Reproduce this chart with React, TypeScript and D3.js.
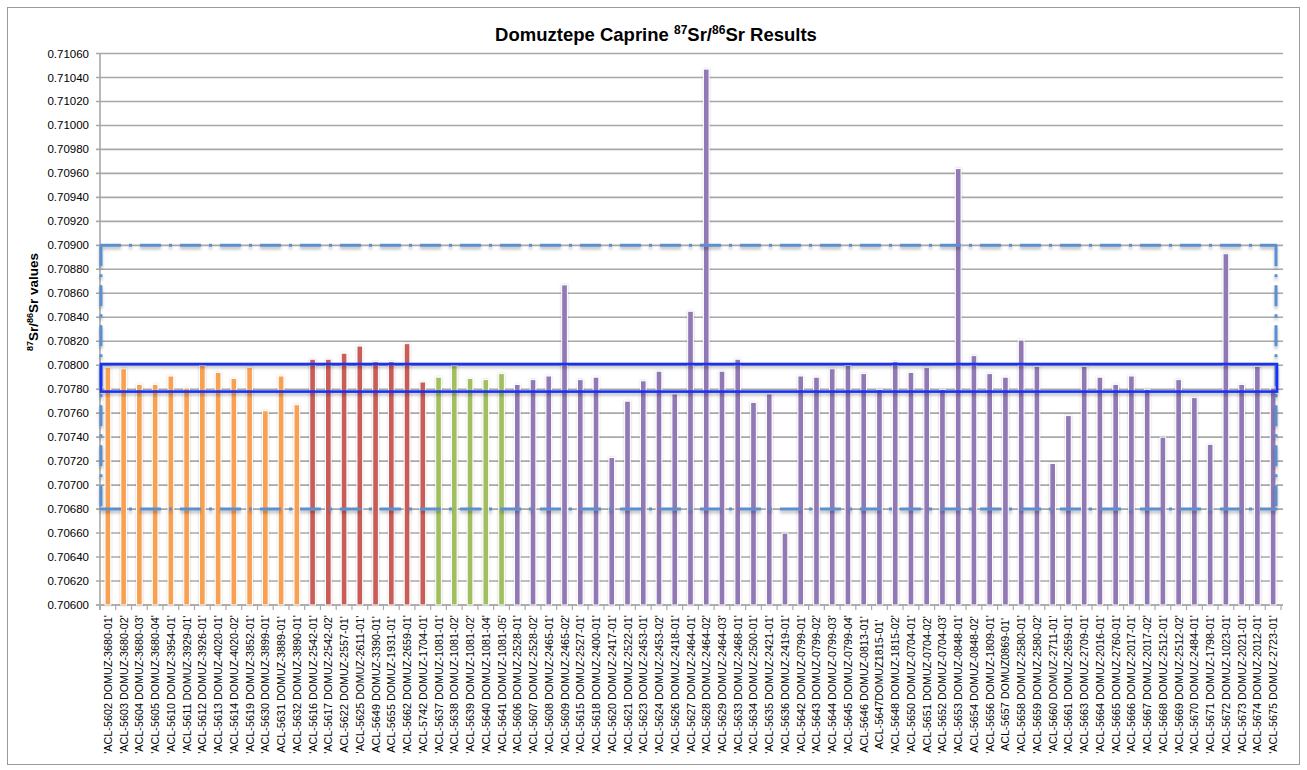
import React from "react";
import * as d3 from "d3";

const labels: string[] = [
  "'ACL-5602 DOMUZ-3680-01'", "'ACL-5603 DOMUZ-3680-02'", "'ACL-5604 DOMUZ-3680-03'", "'ACL-5605 DOMUZ-3680-04'",
  "'ACL-5610 DOMUZ-3954-01'", "'ACL-5611 DOMUZ-3929-01'", "'ACL-5612 DOMUZ-3926-01'", "'ACL-5613 DOMUZ-4020-01'",
  "'ACL-5614 DOMUZ-4020-02'", "'ACL-5619 DOMUZ-3852-01'", "'ACL-5630 DOMUZ-3899-01'", "ACL-5631 DOMUZ-3889-01'",
  "'ACL-5632 DOMUZ-3890-01'", "'ACL-5616 DOMUZ-2542-01'", "'ACL-5617 DOMUZ-2542-02'", "ACL-5622 DOMUZ-2557-01'",
  "'ACL-5625 DOMUZ-2611-01'", "ACL-5649 DOMUZ-3390-01'", "ACL-5655 DOMUZ-1931-01'", "'ACL-5662 DOMUZ-2659-01'",
  "'ACL-5742 DOMUZ-1704-01'", "'ACL-5637 DOMUZ-1081-01'", "'ACL-5638 DOMUZ-1081-02'", "'ACL-5639 DOMUZ-1081-02'",
  "'ACL-5640 DOMUZ-1081-04'", "'ACL-5641 DOMUZ-1081-05'", "'ACL-5606 DOMUZ-2528-01'", "'ACL-5607 DOMUZ-2528-02'",
  "'ACL-5608 DOMUZ-2465-01'", "'ACL-5609 DOMUZ-2465-02'", "'ACL-5615 DOMUZ-2527-01'", "'ACL-5618 DOMUZ-2400-01'",
  "'ACL-5620 DOMUZ-2417-01'", "'ACL-5621 DOMUZ-2522-01'", "'ACL-5623 DOMUZ-2453-01'", "'ACL-5624 DOMUZ-2453-02'",
  "'ACL-5626 DOMUZ-2418-01'", "'ACL-5627 DOMUZ-2464-01'", "'ACL-5628 DOMUZ-2464-02'", "'ACL-5629 DOMUZ-2464-03'",
  "'ACL-5633 DOMUZ-2468-01'", "'ACL-5634 DOMUZ-2500-01'", "'ACL-5635 DOMUZ-2421-01'", "'ACL-5636 DOMUZ-2419-01'",
  "'ACL-5642 DOMUZ-0799-01'", "'ACL-5643 DOMUZ-0799-02'", "'ACL-5644 DOMUZ-0799-03'", "'ACL-5645 DOMUZ-0799-04'",
  "ACL-5646 DOMUZ-0813-01'", "ACL-5647DOMUZ1815-01'", "'ACL-5648 DOMUZ-1815-02'", "'ACL-5650 DOMUZ-0704-01'",
  "ACL-5651 DOMUZ-0704-02'", "'ACL-5652 DOMUZ-0704-03'", "'ACL-5653 DOMUZ-0848-01'", "ACL-5654 DOMUZ-0848-02'",
  "'ACL-5656 DOMUZ-1809-01'", "ACL-5657 DOMUZ0869-01'", "'ACL-5658 DOMUZ-2580-01'", "'ACL-5659 DOMUZ-2580-02'",
  "'ACL-5660 DOMUZ-2711-01'", "'ACL-5661 DOMUZ-2659-01'", "'ACL-5663 DOMUZ-2709-01'", "'ACL-5664 DOMUZ-2016-01'",
  "'ACL-5665 DOMUZ-2760-01'", "'ACL-5666 DOMUZ-2017-01'", "'ACL-5667 DOMUZ-2017-02'", "'ACL-5668 DOMUZ-2512-01'",
  "'ACL-5669 DOMUZ-2512-02'", "'ACL-5670 DOMUZ-2484-01'", "'ACL-5671 DOMUZ-1798-01'", "'ACL-5672 DOMUZ-1023-01'",
  "'ACL-5673 DOMUZ-2021-01'", "'ACL-5674 DOMUZ-2012-01'", "'ACL-5675 DOMUZ-2723-01'",
];

const values: number[] = [
  0.70798, 0.70797, 0.70784, 0.70784, 0.70791, 0.70781, 0.70800, 0.70794, 0.70789, 0.70798, 0.70762, 0.70791, 0.70767,
  0.70805, 0.70805, 0.70810, 0.70816, 0.70803, 0.70803, 0.70818, 0.70786,
  0.70790, 0.70800, 0.70789, 0.70788, 0.70793,
  0.70784, 0.70788, 0.70791, 0.70867, 0.70788, 0.70790, 0.70723, 0.70770, 0.70787, 0.70795, 0.70776, 0.70845,
  0.71047, 0.70795, 0.70805, 0.70769, 0.70776, 0.70660, 0.70791, 0.70790, 0.70797, 0.70800, 0.70793, 0.70780,
  0.70803, 0.70794, 0.70798, 0.70780, 0.70964, 0.70808, 0.70793, 0.70790, 0.70821, 0.70799, 0.70718, 0.70758,
  0.70799, 0.70790, 0.70784, 0.70791, 0.70780, 0.70740, 0.70788, 0.70773, 0.70734, 0.70893, 0.70784, 0.70799,
  0.70781,
];

// group of each bar: o = orange, r = red, g = green, p = purple
const groupSizes: [string, number][] = [["o", 13], ["r", 8], ["g", 5], ["p", 49]];
const groupColors: Record<string, string> = { o: "#f9a153", r: "#c95d59", g: "#a2bf5f", p: "#9079b4" };

const yTicks: number[] = d3.range(0, 24).map((i) => +(0.706 + i * 0.0002).toFixed(5));
const rangeBand: [number, number] = [0.70778, 0.70801]; // solid blue box
const outerBand: [number, number] = [0.7068, 0.709]; // dash-dot box

const groups: string[] = groupSizes.flatMap(([g, n]) => Array(n).fill(g));

export default function App() {
  const W = 1307, H = 770;
  const left = 100, right = 1281, top = 53.5, bottom = 605;
  const x = d3.scaleBand<string>().domain(labels).range([left, right]).paddingInner(0.64).paddingOuter(0.32);
  const y = d3.scaleLinear().domain([0.706, 0.7106]).range([bottom, top]);
  const step = x.step();
  const font = "'Liberation Sans', Arial, sans-serif";
  const dash = "21 8 3 8";

  return (
    <svg width={W} height={H} style={{ position: "absolute", left: 0, top: 0, background: "#fff" }} fontFamily={font}>
      <defs>
        <filter id="sh" x="-50%" y="-50%" width="200%" height="200%">
          <feDropShadow dx="0" dy="2.5" stdDeviation="1.6" floodColor="#000" floodOpacity="0.28" />
        </filter>
        <filter id="glow" x="-80%" y="-10%" width="260%" height="120%">
          <feDropShadow dx="0" dy="0" stdDeviation="1.2" floodColor="#000" floodOpacity="0.22" />
        </filter>
      </defs>
      <rect x={7.5} y={7.5} width={1292} height={757} fill="#fff" stroke="#9a9a9a" strokeWidth={1} />

      {/* gridlines */}
      {yTicks.map((t) => (
        <g key={t}>
          <line x1={left - 4} x2={right + 2} y1={y(t)} y2={y(t)} stroke="#a8a8a8" strokeWidth={1.6} />
          <text x={89} y={y(t)} dy="0.35em" textAnchor="end" fontSize={11.5} fill="#000">
            {t.toFixed(5)}
          </text>
        </g>
      ))}

      {/* x ticks */}
      {d3.range(0, labels.length + 1).map((i) => (
        <line key={i} x1={left + i * step} x2={left + i * step} y1={bottom} y2={bottom + 5} stroke="#a8a8a8" strokeWidth={1.2} />
      ))}
      <line x1={left} x2={left} y1={top} y2={bottom + 5} stroke="#a8a8a8" strokeWidth={1.6} />
      <line x1={left - 4} x2={right + 2} y1={bottom} y2={bottom} stroke="#a8a8a8" strokeWidth={1.6} />

      {/* bars */}
      <g filter="url(#glow)">
        {labels.map((l, i) => (
          <rect
            key={l}
            x={x(l)!}
            y={y(values[i])}
            width={x.bandwidth()}
            height={bottom - y(values[i])}
            fill={groupColors[groups[i]]}
            stroke="#fff"
            strokeWidth={1}
          />
        ))}
      </g>

      {/* dash-dot box */}
      <g filter="url(#sh)" stroke="#5b8fcf" strokeWidth={3} fill="none" strokeDasharray={dash}>
        <line x1={left} x2={1277} y1={y(outerBand[1])} y2={y(outerBand[1])} />
        <line x1={left} x2={1277} y1={y(outerBand[0])} y2={y(outerBand[0])} />
        <line x1={left + 1} x2={left + 1} y1={y(outerBand[1])} y2={y(outerBand[0])} />
        <line x1={1276} x2={1276} y1={y(outerBand[1])} y2={y(outerBand[0])} />
      </g>

      {/* solid blue box */}
      <rect
        filter="url(#sh)"
        x={left + 1}
        y={y(rangeBand[1])}
        width={1277 - left - 1}
        height={y(rangeBand[0]) - y(rangeBand[1])}
        fill="none"
        stroke="#1530f5"
        strokeWidth={2.6}
      />

      {/* x labels */}
      {labels.map((l) => {
        const cx = x(l)! + x.bandwidth() / 2;
        return (
          <text key={l} transform={`translate(${cx + 4},684.5) rotate(-90)`} textAnchor="middle" fontSize={10.8} fill="#000">
            {l}
          </text>
        );
      })}

      {/* title */}
      <text x={656} y={41} textAnchor="middle" fontSize={18.5} fontWeight="bold" fill="#000">
        Domuztepe Caprine <tspan fontSize={12} dy={-7}>87</tspan>
        <tspan dy={7}>Sr/</tspan>
        <tspan fontSize={12} dy={-7}>86</tspan>
        <tspan dy={7}>Sr Results</tspan>
      </text>

      {/* y title */}
      <text transform="translate(38,302) rotate(-90)" textAnchor="middle" fontSize={13.5} fontWeight="bold" fill="#000">
        <tspan fontSize={9} dy={-5}>87</tspan>
        <tspan dy={5}>Sr/</tspan>
        <tspan fontSize={9} dy={-5}>86</tspan>
        <tspan dy={5}>Sr values</tspan>
      </text>
    </svg>
  );
}
